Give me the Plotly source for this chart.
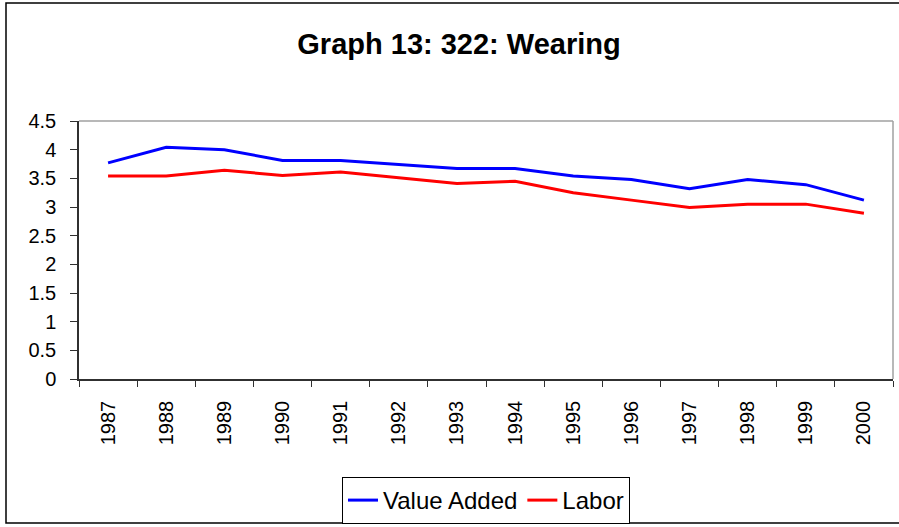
import plotly.graph_objects as go

years = ["1987", "1988", "1989", "1990", "1991", "1992", "1993",
         "1994", "1995", "1996", "1997", "1998", "1999", "2000"]
value_added = [3.77, 4.04, 4.00, 3.81, 3.81, 3.74, 3.67,
               3.67, 3.54, 3.48, 3.32, 3.48, 3.39, 3.12]
labor = [3.54, 3.54, 3.64, 3.55, 3.61, 3.51, 3.41,
         3.45, 3.25, 3.12, 2.99, 3.05, 3.05, 2.89]
title_text = "Graph 13: 322: Wearing"

FONT = "Arial, Liberation Sans, sans-serif"

fig = go.Figure()
fig.add_trace(go.Scatter(x=years, y=value_added, mode="lines", name="Value Added",
                         line=dict(color="#0000FF", width=3)))
fig.add_trace(go.Scatter(x=years, y=labor, mode="lines", name="Labor",
                         line=dict(color="#FF0000", width=3)))

L, R, T, B = 79, 6, 121, 148
W, H = 899, 527
pw = W - L - R
ph = H - T - B

def px_x(px):
    return (px - L) / pw

def px_y(py):
    return (H - B - py) / ph

fig.update_layout(
    width=W, height=H,
    margin=dict(l=L, r=R, t=T, b=B, pad=0, autoexpand=False),
    paper_bgcolor="white", plot_bgcolor="white",
    font=dict(family=FONT, color="black", size=20),
    title=dict(text="<b>" + title_text + "</b>", x=459 / W, xref="container",
               xanchor="center", y=1 - 44 / H, yref="container", yanchor="middle",
               font=dict(size=29, family=FONT, color="black")),
    showlegend=True,
    legend=dict(orientation="h", x=0.5, xanchor="center", y=px_y(477), yanchor="top",
                bordercolor="black", borderwidth=1, bgcolor="white",
                font=dict(size=24, family=FONT), tracegroupgap=0),
    xaxis=dict(type="category", range=[-0.5, len(years) - 0.5], autorange=False,
               showgrid=False, zeroline=False, automargin=False,
               showline=True, linecolor="#303030", linewidth=1.5,
               ticks="outside", tickson="boundaries", ticklen=6, tickcolor="#303030",
               tickangle=-90, tickfont=dict(size=20, family=FONT),
               ticklabelstandoff=12, fixedrange=True),
    yaxis=dict(range=[0, 4.5], dtick=0.5, tick0=0, showgrid=False, zeroline=False,
               automargin=False,
               showline=True, linecolor="#303030", linewidth=1.5,
               ticks="outside", ticklen=7, tickcolor="#303030",
               tickfont=dict(size=20, family=FONT),
               ticklabelstandoff=10, fixedrange=True),
    shapes=[
        dict(type="line", xref="paper", yref="paper", x0=0, x1=1, y0=1, y1=1,
             line=dict(color="#A0A0A0", width=1.5), layer="above"),
        dict(type="line", xref="paper", yref="paper", x0=1, x1=1, y0=0, y1=1,
             line=dict(color="#A0A0A0", width=1.5), layer="above"),
        dict(type="rect", xref="paper", yref="paper",
             x0=px_x(6), x1=px_x(1000), y0=px_y(523), y1=px_y(3),
             line=dict(color="black", width=1.5), fillcolor="rgba(0,0,0,0)", layer="above"),
    ],
)

fig.write_html("out.html", config={"displayModeBar": False},
               post_script="document.body.style.margin='0';document.body.style.padding='0';document.body.style.overflow='hidden';")
